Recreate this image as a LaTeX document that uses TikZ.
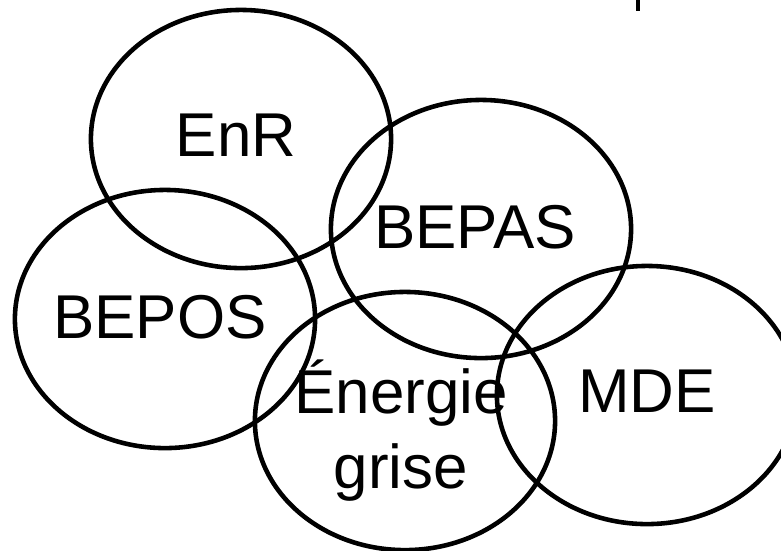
\documentclass[tikz,border=0pt]{standalone}
\usepackage{fontspec}
\setmainfont{Liberation Sans}
\usetikzlibrary{shapes.geometric}
\begin{document}
\begin{tikzpicture}[x=0.01cm,y=-0.01cm,
        bubble/.style={ellipse,draw,line width=1.3pt,inner sep=0pt,
          minimum width=3cm,minimum height=2.58cm},
        lbl/.style={anchor=base,inner sep=0pt,align=center,
          font=\fontsize{17.6pt}{21.3pt}\selectfont}]
        \path[use as bounding box,clip] (0,0) rectangle (781,550);
        % the five bubbles
        \node[bubble] (enr) at (241,139) {};
        \node[bubble] (bepas) at (481,229) {};
        \node[bubble] (bepos) at (165,319) {};
        \node[bubble] (grise) at (405,421) {};
        \node[bubble] (mde) at (647,395) {};
        % their texts
        \node[lbl] (enr-t) at (236,156) {EnR};
        \node[lbl] (bepas-t) at (475,248) {BEPAS};
        \node[lbl] (bepos-t) at (160,338) {BEPOS};
        \node[lbl] (grise-t) at (401,488) {Énergie\\grise};
        \node[lbl] (mde-t) at (647,412) {MDE};
        \draw[line width=1.3pt] (638,0) -- (638,11);
      \end{tikzpicture}
\end{document}
